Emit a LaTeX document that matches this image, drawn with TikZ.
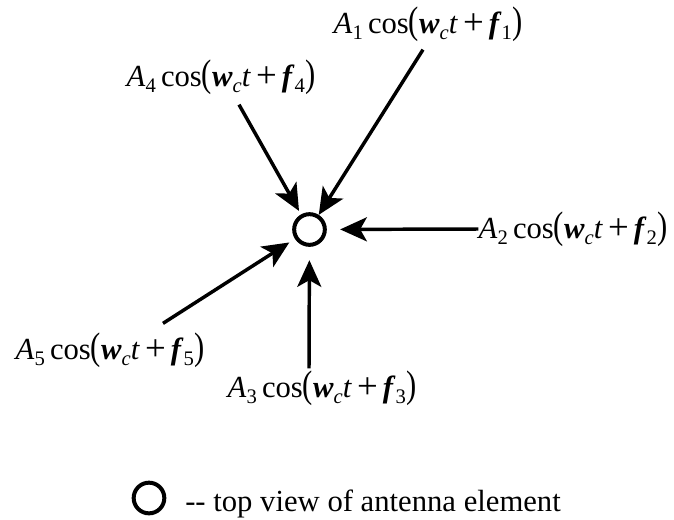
\documentclass[tikz,border=0pt]{standalone}
\usepackage{fontspec}
\usepackage{graphicx}
\setmainfont{Liberation Serif}
\usetikzlibrary{arrows.meta}
\newcommand{\sbs}[1]{\raisebox{-0.45ex}{\fontsize{15.5}{15.5}\selectfont #1}}
\newcommand{\tallp}[1]{\scalebox{1}[1.25]{#1}}
\newcommand{\sigterm}[1]{\textit{A}\sbs{#1}\,cos\tallp{(}\textbf{\textit{w}}\sbs{\textit{c}}\textit{t}\,\raisebox{-0.1ex}{\scalebox{1.2}{+}}\,\textbf{\textit{f}}\sbs{#1}\tallp{)}}
\begin{document}
\begin{tikzpicture}[
    x=0.75pt, y=-0.75pt,
    elem/.style={draw, circle, line width=3pt, minimum size=23pt, inner sep=0pt},
    sig/.style={-{Stealth[length=20pt, width=18pt, inset=5pt]}, line width=2.6pt},
    lbl/.style={inner sep=0pt, font=\fontsize{23}{26}\selectfont}
]
    \useasboundingbox (0,0) rectangle (674,519);
    \node[elem] (ant) at (309.5,229.5) {};
    \node[lbl] (l1) at (428,24) {\sigterm{1}};
    \node[lbl] (l4) at (221,77) {\sigterm{4}};
    \node[lbl] (l2) at (573,229) {\sigterm{2}};
    \node[lbl] (l5) at (110,350) {\sigterm{5}};
    \node[lbl] (l3) at (322,388) {\sigterm{3}};

    \draw[sig] (l1.south) ++(-5,8) -- (ant);
    \draw[sig, shorten >=3pt] (l4.south) ++(18,10) -- (ant);
    \draw[sig, shorten >=10pt] (l2.west) -- (ant);
    \draw[sig, shorten >=5pt] (l5.north) ++(53,-9) -- (ant);
    \draw[sig, shorten >=10pt] (l3.north) ++(-13,-2) -- (ant);

    \node[elem] (key) at (149,498) {};
    \node[lbl, anchor=base west, font=\fontsize{23}{26}\selectfont] (keytxt) at (185,511) {\mbox{-}\mbox{-} top view of antenna element};
\end{tikzpicture}
\end{document}
